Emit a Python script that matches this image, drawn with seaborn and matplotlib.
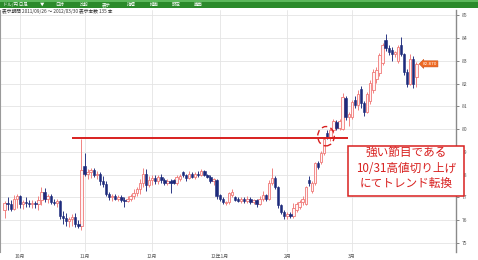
import numpy as np
import pandas as pd
import matplotlib
matplotlib.use("Agg")
import matplotlib.pyplot as plt
from matplotlib.patches import Rectangle, Ellipse
import seaborn as sns

# ---------------- data (USD/JPY daily) ----------------
start_date = "2011-09-26"
end_date = "2012-03-30"
opens = [76.45, 76.75, 76.70, 76.50, 76.95, 77.05, 76.70, 76.80, 76.75, 76.70,
         76.75, 76.70, 76.90, 77.25, 76.95, 77.05, 76.80, 76.75, 76.85, 76.20,
         76.10, 75.95, 76.05, 76.15, 75.85, 75.75, 78.40, 78.05, 78.10, 78.20,
         78.00, 78.05, 77.70, 77.60, 77.15, 77.00, 77.05, 76.95, 77.00, 76.90,
         76.85, 76.95, 77.05, 77.20, 77.35, 77.65, 78.05, 77.55, 77.75, 77.85,
         77.70, 77.90, 77.75, 77.65, 77.70, 77.75, 77.65, 77.80, 78.10, 78.00,
         77.85, 78.05, 77.90, 78.05, 78.00, 78.15, 78.00, 77.90, 77.70, 77.75,
         77.10, 76.95, 76.75, 76.80, 77.10, 77.00, 76.95, 76.85, 76.95, 76.85,
         76.95, 76.80, 76.90, 76.70, 76.95, 77.10, 76.95, 77.65, 77.85, 77.45,
         76.65, 76.35, 76.20, 76.25, 76.20, 76.45, 76.60, 76.80, 76.70, 77.75,
         77.30, 77.65, 78.50, 78.55, 78.95, 79.85, 79.60, 79.95, 80.30, 80.05,
         80.00, 81.35, 80.55, 80.55, 81.30, 81.05, 81.75, 81.15, 80.75, 81.25,
         81.70, 82.20, 82.45, 82.90, 83.90, 83.55, 83.50, 83.30, 83.00, 83.70,
         83.30, 82.50, 82.00, 83.10, 82.30]
highs = [76.85, 77.00, 76.90, 77.10, 77.15, 77.10, 76.90, 77.00, 76.90, 76.90,
         76.85, 77.05, 77.45, 77.40, 77.15, 77.15, 76.95, 76.95, 76.90, 76.40,
         76.30, 76.15, 76.25, 76.30, 76.00, 79.55, 78.95, 78.25, 78.30, 78.30,
         78.15, 78.10, 77.95, 77.70, 77.25, 77.15, 77.15, 77.10, 77.10, 77.00,
         77.05, 77.15, 77.35, 77.45, 77.80, 78.30, 78.25, 77.95, 78.00, 78.00,
         78.00, 78.05, 77.85, 77.80, 77.80, 77.80, 78.00, 78.05, 78.15, 78.05,
         78.15, 78.10, 78.10, 78.15, 78.25, 78.20, 78.05, 78.00, 77.85, 77.80,
         77.15, 77.00, 76.85, 77.25, 77.35, 77.05, 77.00, 77.00, 77.00, 77.05,
         77.00, 76.95, 76.95, 77.05, 77.30, 77.15, 77.75, 78.30, 77.95, 77.50,
         76.70, 76.45, 76.35, 76.35, 76.75, 76.80, 76.90, 77.05, 77.50, 77.95,
         77.70, 78.55, 78.60, 79.05, 79.65, 79.95, 80.05, 80.45, 80.40, 80.45,
         81.60, 81.45, 80.75, 81.30, 81.45, 81.70, 81.90, 81.25, 81.65, 82.15,
         82.65, 82.75, 83.35, 83.80, 84.20, 83.70, 83.60, 83.45, 83.70, 84.05,
         83.35, 82.65, 83.30, 83.20, 82.95]
lows = [76.10, 76.45, 76.40, 76.45, 76.55, 76.55, 76.50, 76.60, 76.60, 76.55,
        76.55, 76.45, 76.65, 76.80, 76.75, 76.70, 76.65, 76.60, 76.05, 75.85,
        75.75, 75.70, 75.75, 75.70, 75.65, 75.57, 77.95, 77.80, 77.85, 77.90,
        77.80, 77.55, 77.45, 77.05, 76.90, 76.85, 76.90, 76.85, 76.80, 76.60,
        76.80, 76.85, 76.95, 77.05, 77.15, 77.45, 77.30, 77.45, 77.55, 77.60,
        77.60, 77.65, 77.55, 77.55, 77.20, 77.60, 77.55, 77.70, 77.90, 77.70,
        77.80, 77.85, 77.80, 77.90, 77.95, 77.95, 77.85, 77.65, 77.55, 76.95,
        76.85, 76.70, 76.65, 76.70, 77.00, 76.85, 76.80, 76.75, 76.75, 76.75,
        76.70, 76.70, 76.60, 76.65, 76.85, 76.85, 76.90, 77.55, 77.35, 76.55,
        76.25, 76.05, 76.05, 76.10, 76.10, 76.35, 76.50, 76.65, 76.65, 77.50,
        77.20, 77.55, 78.25, 78.45, 78.85, 79.55, 79.50, 79.85, 79.95, 79.95,
        79.95, 80.40, 80.15, 80.45, 80.95, 80.85, 80.95, 80.60, 80.70, 81.10,
        81.60, 82.05, 82.35, 82.80, 83.45, 83.25, 83.00, 83.15, 82.90, 83.20,
        82.40, 81.85, 81.95, 81.80, 81.85]
closes = [76.75, 76.70, 76.50, 76.95, 77.05, 76.70, 76.80, 76.75, 76.70, 76.75,
          76.70, 76.90, 77.25, 76.95, 77.05, 76.80, 76.75, 76.85, 76.20, 76.10,
          75.95, 76.05, 76.15, 75.85, 75.75, 78.20, 78.05, 78.10, 78.20, 78.00,
          78.05, 77.70, 77.60, 77.15, 77.00, 77.05, 76.95, 77.00, 76.90, 76.85,
          76.95, 77.05, 77.20, 77.35, 77.65, 78.05, 77.55, 77.75, 77.85, 77.70,
          77.90, 77.75, 77.65, 77.70, 77.65, 77.65, 77.90, 77.95, 78.00, 77.85,
          78.05, 77.90, 78.05, 78.00, 78.15, 78.00, 77.90, 77.70, 77.80, 77.05,
          76.95, 76.80, 76.80, 77.20, 77.25, 76.90, 76.85, 76.95, 76.85, 76.95,
          76.80, 76.90, 76.70, 76.95, 77.10, 76.95, 77.65, 77.85, 77.45, 76.65,
          76.35, 76.20, 76.25, 76.20, 76.55, 76.70, 76.80, 76.95, 77.45, 77.65,
          77.65, 78.50, 78.35, 78.95, 79.55, 79.65, 79.95, 80.35, 80.05, 80.35,
          81.40, 80.55, 80.65, 81.20, 81.05, 81.55, 81.15, 80.75, 81.55, 82.05,
          82.50, 82.60, 83.25, 83.70, 83.55, 83.40, 83.30, 83.40, 83.60, 83.30,
          82.50, 82.00, 83.10, 82.00, 82.87]
month_labels = ["10月", "11月", "12月", "12年1月", "2月", "3月"]
y_ticks = [75, 76, 77, 78, 79, 80, 81, 82, 83, 84, 85]
resistance_level = 79.59          # 10/31 high line
last_price_label = "82.870"
note_lines = ["強い節目である", "10/31高値切り上げ", "にてトレンド転換"]
menu_items = ["ドル/円 日足", "▼", "日時", "比較", "表示", "指標", "描画", "設定", "画面"]
header_text = "表示期間 2011/09/26 〜 2012/03/30 表示本数 135 本"

# ---------------- build frame ----------------
dates = pd.bdate_range(start_date, end_date)
df = pd.DataFrame({"date": dates, "open": opens, "high": highs,
                   "low": lows, "close": closes})
df["idx"] = np.arange(len(df))
df["up"] = df["close"] >= df["open"]
month_start_idx = df.groupby(df["date"].dt.to_period("M"))["idx"].min().values[1:]

# ---------------- style ----------------
sns.set_style("whitegrid")
plt.rcParams["font.family"] = ["Noto Sans CJK JP", "DejaVu Sans"]

W, H = 478, 260
fig = plt.figure(figsize=(W / 100, H / 100), dpi=100)
ax = fig.add_axes([0, (H - 252) / H, 456 / W, (252 - 9.5) / H])

up_col = "#f07a78"
dn_col = "#1d2b7c"

up = df[df["up"]]
dn = df[~df["up"]]
# wicks
ax.vlines(up["idx"], up["low"], up["high"], color=up_col, lw=0.65, zorder=3)
ax.vlines(dn["idx"], dn["low"], dn["high"], color=dn_col, lw=0.65, zorder=3)
# bodies
bw = 0.78
ax.bar(up["idx"], (up["close"] - up["open"]).clip(lower=0.03), bottom=up["open"],
       width=bw, color="#fff4f4", edgecolor=up_col, linewidth=0.6, zorder=4)
ax.bar(dn["idx"], (dn["open"] - dn["close"]).clip(lower=0.03), bottom=dn["close"],
       width=bw, color=dn_col, edgecolor=dn_col, linewidth=0.4, zorder=4)

# axes limits
ax.set_xlim(-1.5, 146.9)
ax.set_ylim(74.6, 85.26)

# grid
ax.set_xticks(month_start_idx)
ax.set_xticklabels(month_labels)
ax.set_yticks(y_ticks)
ax.set_yticklabels([str(v) for v in y_ticks])
ax.grid(True, color="#e4e4e4", lw=0.6)
ax.yaxis.tick_right()
ax.tick_params(axis="y", labelsize=3.6, colors="#555555", length=2, width=0.5,
               pad=2, right=True, direction="out")
ax.tick_params(axis="x", labelsize=3.6, colors="#555555", length=0, pad=1.5)
for s in ["top", "bottom"]:
    ax.spines[s].set_visible(False)
ax.spines["left"].set_color("#9a9a9a")
ax.spines["left"].set_linewidth(0.8)
ax.spines["right"].set_color("#8a8a8a")
ax.spines["right"].set_linewidth(1.0)

# resistance line
ax.hlines(resistance_level, 21.9, 111.7, color="#d8201f", lw=1.4, zorder=6)
# dashed circle around breakout
ax.add_patch(Ellipse((104.6, 79.69), 5.4, 0.85, fill=False, ec="#d8201f",
                     lw=1.0, ls=(0, (4, 2.5)), zorder=7))

# last price tag
ax.text(136.0, closes[-1], last_price_label, fontsize=3.0, color="white",
        va="center", ha="left", zorder=8, family="DejaVu Sans",
        bbox=dict(boxstyle="larrow,pad=0.25", fc="#ef6a22", ec="#c8501a", lw=0.4))

# annotation box
fig.patches.append(Rectangle((348 / W, (H - 196) / H), 116 / W, 50 / H,
                             transform=fig.transFigure, fc="white",
                             ec="#d8201f", lw=1.1, zorder=10))
for k, line in enumerate(note_lines):
    fig.text(406 / W, (H - (153 + 15 * k)) / H, line, fontsize=8.4,
             color="#d8201f", ha="center", va="center", zorder=11)

# green menu bar
fig.patches.append(Rectangle((0, (H - 8) / H), 1, 8 / H, transform=fig.transFigure,
                             fc="#2b8a2b", ec="none", zorder=9))
fig.patches.append(Rectangle((0, (H - 2) / H), 1, 2 / H, transform=fig.transFigure,
                             fc="#5cb85c", ec="none", zorder=9))
menu_x = [3, 40, 55, 80, 102, 127, 150, 172, 194]
for mx, item in zip(menu_x, menu_items):
    fig.text(mx / W, (H - 4.5) / H, item, fontsize=3.2, color="white",
             ha="left", va="center", zorder=10)

# header text
fig.text(2 / W, (H - 11.5) / H, header_text, fontsize=3.4, color="#333333",
         ha="left", va="center", zorder=10)

fig.savefig("out.png", dpi=100)
